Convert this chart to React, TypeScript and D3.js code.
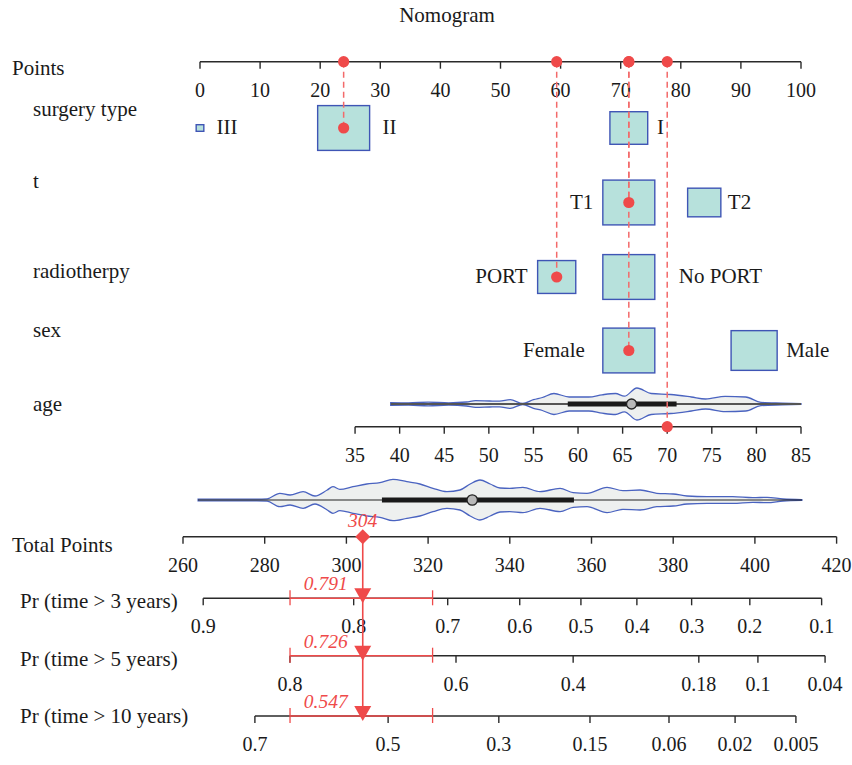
import React from 'react';
import * as d3 from 'd3';

// ---------------- data ----------------
const pointTicks = [0, 10, 20, 30, 40, 50, 60, 70, 80, 90, 100];

const surgeryCats = ['III', 'II', 'I'];
const surgeryPoints = [0, 23.9, 71.35];
const surgeryShare = [0.014, 0.645, 0.341];

const tCats = ['T1', 'T2'];
const tPoints = [71.35, 83.9];
const tShare = [0.71, 0.29];

const radioCats = ['PORT', 'No PORT'];
const radioPoints = [59.35, 71.35];
const radioShare = [0.35, 0.65];

const sexCats = ['Female', 'Male'];
const sexPoints = [71.35, 92.2];
const sexShare = [0.56, 0.44];

const ageTicks = [35, 40, 45, 50, 55, 60, 65, 70, 75, 80, 85];
const ageDomain = [35, 85];
const agePointRange = [25.8, 100];
const ageDensity: [number, number][] = [
  [39, 1.4], [41, 1.2], [43.2, 1.8], [45.5, 1.2], [47.5, 2], [48.5, 3.4], [50.1, 3],
  [51.2, 2.8], [52.4, 4.3], [53.8, 0.5], [55, 4.3], [56, 6.5], [57.3, 10.5], [59, 7], [61.2, 7],
  [62.7, 9.2], [64.2, 10.5], [65.2, 7.8], [66.6, 16], [68.2, 10.5], [70.4, 9.5], [72.7, 7],
  [74.3, 5], [76.5, 7.6], [78.8, 7], [80.5, 1.6], [82.9, 0.9], [85, 0.4],
];
const ageBox = [58.85, 66.0, 71.05];

const totalTicks = [260, 280, 300, 320, 340, 360, 380, 400, 420];
const totalDensity: [number, number][] = [
  [263.7, 0.9], [278, 0.9], [280.6, 1.2], [283.7, 6.7], [286.2, 5], [289.4, 8.3], [292.3, 4],
  [295.3, 10], [296.7, 13.3], [298.4, 10.7], [301.6, 13.3], [305, 16], [308.2, 17.3],
  [311.4, 20.7], [314.8, 18.3], [318, 16], [321.2, 11.7], [324.6, 8.3], [327.8, 10],
  [330.3, 16], [332.7, 20], [335.2, 16], [337.6, 12], [340, 11.7], [343.2, 12.7],
  [347.4, 8.3], [352.3, 11.7], [355.5, 7.3], [358.9, 6.7], [363.8, 12.7], [367.7, 9.3],
  [371.9, 10], [376, 6.7], [380, 6], [383.4, 4], [388.3, 3.3], [394.6, 3.3], [399.5, 2.3],
  [403, 2.7], [406.9, 1], [411.5, 0.4],
];
const totalBox = [308.7, 330.8, 355.7];

const selectedCats = ['II', 'T1', 'PORT', 'Female'];
const selectedAge = 70;
const selectedTotal = 304;
const totalCI = [286.2, 321.1];

const prLabels = ['Pr (time > 3 years)', 'Pr (time > 5 years)', 'Pr (time > 10 years)'];
const pr3Ticks = [0.9, 0.8, 0.7, 0.6, 0.5, 0.4, 0.3, 0.2, 0.1];
const pr5Ticks = [0.8, 0.6, 0.4, 0.18, 0.1, 0.04];
const pr10Ticks = [0.7, 0.5, 0.3, 0.15, 0.06, 0.02, 0.005];
const prCenters = [375.4, 359.8, 328.2]; // total points where log(-log(S)) = 0
const prSlope = 0.020374;
const prPredicted = ['0.791', '0.726', '0.547'];

// ---------------- styles ----------------
const FONT = 'Liberation Serif';
const FS = 21;
const FS_TICK = 20;
const RED = '#ef4a4a';
const RED_DASH = '#f36a6a';
const BOX_FILL = '#b7e1dc';
const BOX_STROKE = '#3f55b5';
const VIO_FILL = '#eef0ef';
const VIO_STROKE = '#4a63c0';
const AXIS = '#2a2a2a';

const W = 852;
const H = 765;

export default function App() {
  const px = d3.scaleLinear().domain([0, 100]).range([200, 801]);
  const ageX = d3.scaleLinear().domain(ageDomain).range(agePointRange.map((p) => px(p)));
  const tx = d3.scaleLinear().domain([260, 420]).range([183, 836.6]);
  const prToTotal = (p: number, i: number) => prCenters[i] + Math.log(-Math.log(p)) / prSlope;

  const yPoints = 61.7;
  const rows = [
    { name: 'surgery type', cats: surgeryCats, pts: surgeryPoints, share: surgeryShare, y: 128, ly: 109,
      side: [1, 1, 1], gap: [12.7, 13, 9.4] },
    { name: 't', cats: tCats, pts: tPoints, share: tShare, y: 202.5, ly: 181,
      side: [-1, 1], gap: [9.5, 7] },
    { name: 'radiotherpy', cats: radioCats, pts: radioPoints, share: radioShare, y: 277, ly: 271,
      side: [-1, 1], gap: [10, 24] },
    { name: 'sex', cats: sexCats, pts: sexPoints, share: sexShare, y: 350.5, ly: 330,
      side: [-1, 1], gap: [18, 9] },
  ];
  const ageViolinY = 404;
  const ageAxisY = 426.7;
  const totalViolinY = 500;
  const totalAxisY = 536.7;
  const prAxisY = [598.3, 655.7, 716];
  const prTicks = [pr3Ticks, pr5Ticks, pr10Ticks];

  const maxBoxH = 44.8;
  const boxAspect = 1.16;

  const violin = (data: [number, number][], xs: (v: number) => number, cy: number) =>
    d3
      .area<[number, number]>()
      .x((d) => xs(d[0]))
      .y0((d) => cy - d[1])
      .y1((d) => cy + d[1])
      .curve(d3.curveMonotoneX)(data) || '';

  const T = (props: any) => (
    <text fontFamily={FONT} fontSize={FS} fill="#1a1a1a" {...props} />
  );

  const axis = (y: number, ticks: number[], xs: (v: number) => number, fmt: (v: number) => string, key: string) => {
    const xsTicks = ticks.map(xs);
    return (
      <g key={key}>
        <line x1={d3.min(xsTicks)} x2={d3.max(xsTicks)} y1={y} y2={y} stroke={AXIS} strokeWidth={1.4} />
        {ticks.map((t, i) => (
          <g key={i}>
            <line x1={xsTicks[i]} x2={xsTicks[i]} y1={y} y2={y + 7} stroke={AXIS} strokeWidth={1.4} />
            <T x={xsTicks[i]} y={y + 28} dy="0.35em" textAnchor="middle" fontSize={FS_TICK}>
              {fmt(t)}
            </T>
          </g>
        ))}
      </g>
    );
  };

  const selected = rows.map((r, ri) => {
    const idx = r.cats.indexOf(selectedCats[ri]);
    return { x: px(r.pts[idx]), y: r.y };
  });
  const ageSelX = ageX(selectedAge);
  const totX = tx(selectedTotal);

  return (
    <svg
      width={W}
      height={H}
      viewBox={`0 0 ${W} ${H}`}
      fontFamily={FONT}
      style={{ position: 'absolute', left: 0, top: 0, background: '#fff' }}
    >
      <rect x={0} y={0} width={W} height={H} fill="#fff" />
      <T x={447} y={15} dy="0.35em" textAnchor="middle">
        Nomogram
      </T>

      {/* row labels */}
      <T x={12} y={68} dy="0.35em">Points</T>
      {rows.map((r) => (
        <T key={r.name} x={33} y={r.ly} dy="0.35em">
          {r.name}
        </T>
      ))}
      <T x={33} y={404} dy="0.35em">age</T>
      <T x={12} y={545} dy="0.35em">Total Points</T>
      {prLabels.map((l, i) => (
        <T key={l} x={20} y={[601, 659, 716][i]} dy="0.35em">
          {l}
        </T>
      ))}

      {/* points axis */}
      {axis(yPoints, pointTicks, px, (v) => String(v), 'pts')}

      {/* category boxes */}
      {rows.map((r) => {
        const s = d3.scaleSqrt().domain([0, d3.max(r.share) as number]).range([0, maxBoxH]);
        return (
          <g key={r.name}>
            {r.cats.map((c, i) => {
              const h = s(r.share[i]);
              const w = h * boxAspect;
              const cx = px(r.pts[i]);
              const lx = r.side[i] > 0 ? cx + w / 2 + r.gap[i] : cx - w / 2 - r.gap[i];
              return (
                <g key={c}>
                  <rect x={cx - w / 2} y={r.y - h / 2} width={w} height={h} fill={BOX_FILL} stroke={BOX_STROKE} strokeWidth={1.4} />
                  <T x={lx} y={r.y - 1} dy="0.35em" textAnchor={r.side[i] > 0 ? 'start' : 'end'}>
                    {c}
                  </T>
                </g>
              );
            })}
          </g>
        );
      })}

      {/* age violin */}
      <path d={violin(ageDensity, ageX, ageViolinY)} fill={VIO_FILL} stroke={VIO_STROKE} strokeWidth={1.3} />
      <line x1={ageX(ageDensity[0][0])} x2={ageX(ageDensity[ageDensity.length - 1][0])} y1={ageViolinY} y2={ageViolinY} stroke="#555" strokeWidth={2} />
      <line x1={ageX(ageBox[0])} x2={ageX(ageBox[2])} y1={ageViolinY} y2={ageViolinY} stroke="#1a1a1a" strokeWidth={5} />
      <circle cx={ageX(ageBox[1])} cy={ageViolinY} r={5} fill="#b9b9b9" stroke="#222" strokeWidth={1.3} />
      {axis(ageAxisY, ageTicks, ageX, (v) => String(v), 'age')}

      {/* total violin */}
      <path d={violin(totalDensity, tx, totalViolinY)} fill={VIO_FILL} stroke={VIO_STROKE} strokeWidth={1.3} />
      <line x1={tx(totalDensity[0][0])} x2={tx(totalDensity[totalDensity.length - 1][0])} y1={totalViolinY} y2={totalViolinY} stroke="#222" strokeWidth={1} />
      <line x1={tx(totalBox[0])} x2={tx(totalBox[2])} y1={totalViolinY} y2={totalViolinY} stroke="#1a1a1a" strokeWidth={5} />
      <circle cx={tx(totalBox[1])} cy={totalViolinY} r={5.2} fill="#b9b9b9" stroke="#222" strokeWidth={1.3} />

      {/* total points axis */}
      {axis(totalAxisY, totalTicks, tx, (v) => String(v), 'tot')}

      {/* probability axes */}
      {prTicks.map((ticks, i) =>
        axis(prAxisY[i], ticks, (p) => tx(prToTotal(p, i)), (v) => String(v), 'pr' + i)
      )}

      {/* dashed selection lines */}
      {selected.map((s, i) => (
        <line key={i} x1={s.x} x2={s.x} y1={yPoints} y2={s.y} stroke={RED_DASH} strokeWidth={1.5} strokeDasharray="6,4" />
      ))}
      <line x1={ageSelX} x2={ageSelX} y1={yPoints} y2={ageAxisY} stroke={RED_DASH} strokeWidth={1.5} strokeDasharray="6,4" />
      {selected.map((s, i) => (
        <g key={i}>
          <circle cx={s.x} cy={yPoints} r={5.6} fill={RED} />
          <circle cx={s.x} cy={s.y} r={5.6} fill={RED} />
        </g>
      ))}
      <circle cx={ageSelX} cy={yPoints} r={5.6} fill={RED} />
      <circle cx={ageSelX} cy={ageAxisY} r={5.6} fill={RED} />

      {/* total & probabilities */}
      <line x1={totX} x2={totX} y1={totalAxisY} y2={prAxisY[2]} stroke={RED} strokeWidth={1.6} />
      <path d={`M${totX},${totalAxisY - 7.5}L${totX + 7.5},${totalAxisY}L${totX},${totalAxisY + 7.5}L${totX - 7.5},${totalAxisY}Z`} fill={RED} />
      <T x={totX} y={totalAxisY - 10} textAnchor="middle" fill={RED} fontStyle="italic" fontSize={19.5}>
        {String(selectedTotal)}
      </T>
      {prAxisY.map((y, i) => (
        <g key={i}>
          <line x1={tx(totalCI[0])} x2={tx(totalCI[1])} y1={y} y2={y} stroke={RED} strokeWidth={1.6} />
          <line x1={tx(totalCI[0])} x2={tx(totalCI[0])} y1={y - 8} y2={y + 7} stroke={RED} strokeWidth={1.3} />
          <line x1={tx(totalCI[1])} x2={tx(totalCI[1])} y1={y - 8} y2={y + 7} stroke={RED} strokeWidth={1.3} />
          <path d={`M${totX - 8.5},${y - 10}L${totX + 8.5},${y - 10}L${totX},${y + 5}Z`} fill={RED} />
          <T x={totX - 15} y={y - 15} dy="0.35em" textAnchor="end" fill={RED} fontStyle="italic" fontSize={19.5}>
            {prPredicted[i]}
          </T>
        </g>
      ))}
    </svg>
  );
}
